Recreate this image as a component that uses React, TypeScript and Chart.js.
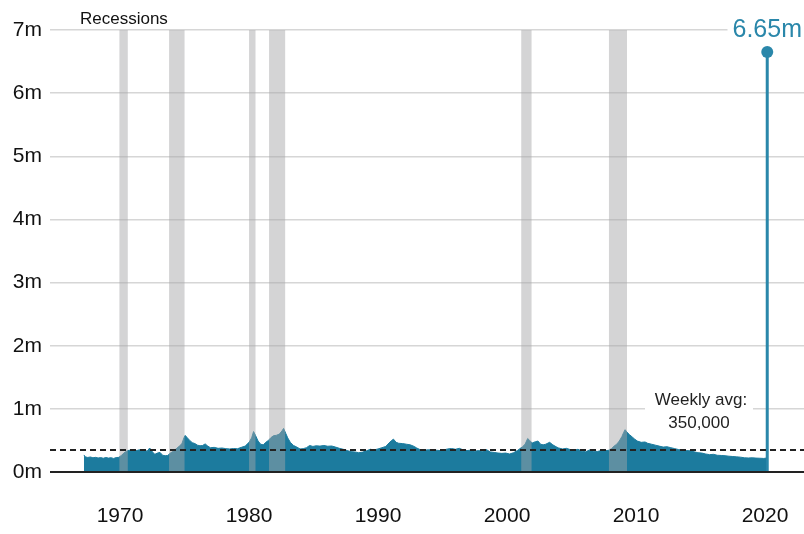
import React, { useEffect, useRef } from "react";
import { Chart, registerables } from "chart.js";

Chart.register(...registerables);

// Weekly initial jobless claims (thousands)
const years = [
  1967.2, 1967.3, 1967.5, 1967.7, 1967.9, 1968.1, 1968.3, 1968.5, 1968.7, 1968.9,
  1969.1, 1969.3, 1969.5, 1969.7, 1969.9, 1970.1, 1970.3, 1970.5, 1970.7, 1970.9,
  1971.1, 1971.3, 1971.5, 1971.7, 1971.9, 1972.1, 1972.3, 1972.5, 1972.7, 1972.9,
  1973.1, 1973.3, 1973.5, 1973.7, 1973.9, 1974.1, 1974.4, 1974.6, 1974.8, 1974.95,
  1975.05, 1975.2, 1975.4, 1975.6, 1975.8, 1976.0, 1976.2, 1976.4, 1976.6, 1976.8,
  1977.0, 1977.3, 1977.6, 1977.9, 1978.2, 1978.5, 1978.8, 1979.1, 1979.4, 1979.7,
  1980.0, 1980.2, 1980.35, 1980.5, 1980.7, 1980.9, 1981.1, 1981.3, 1981.5, 1981.7,
  1981.9, 1982.1, 1982.35, 1982.55, 1982.68, 1982.85, 1983.0, 1983.2, 1983.45, 1983.7,
  1983.95, 1984.2, 1984.45, 1984.7, 1984.95, 1985.2, 1985.5, 1985.8, 1986.1, 1986.4,
  1986.7, 1987.0, 1987.3, 1987.6, 1987.9, 1988.2, 1988.5, 1988.8, 1989.1, 1989.4,
  1989.7, 1990.0, 1990.3, 1990.6, 1990.85, 1991.05, 1991.2, 1991.4, 1991.6, 1991.9,
  1992.2, 1992.5, 1992.8, 1993.0, 1993.3, 1993.6, 1993.9, 1994.2, 1994.5, 1994.8,
  1995.1, 1995.4, 1995.7, 1996.0, 1996.3, 1996.6, 1996.9, 1997.2, 1997.5, 1997.8,
  1998.1, 1998.4, 1998.7, 1999.0, 1999.3, 1999.6, 1999.9, 2000.2, 2000.5, 2000.8,
  2001.0, 2001.2, 2001.4, 2001.6, 2001.75, 2001.95, 2002.2, 2002.4, 2002.6, 2002.8,
  2003.0, 2003.3, 2003.55, 2003.8, 2004.0, 2004.3, 2004.6, 2004.9, 2005.2, 2005.5,
  2005.8, 2006.1, 2006.4, 2006.7, 2007.0, 2007.3, 2007.6, 2007.9, 2008.1, 2008.3,
  2008.5, 2008.7, 2008.9, 2009.05, 2009.15, 2009.3, 2009.5, 2009.7, 2009.9, 2010.1,
  2010.4, 2010.7, 2010.9, 2011.2, 2011.5, 2011.8, 2012.1, 2012.4, 2012.7, 2013.0,
  2013.3, 2013.6, 2013.9, 2014.2, 2014.5, 2014.8, 2015.1, 2015.4, 2015.7, 2016.0,
  2016.3, 2016.6, 2016.9, 2017.2, 2017.5, 2017.8, 2018.1, 2018.4, 2018.7, 2019.0,
  2019.3, 2019.6, 2019.9, 2020.1,
];
const claimsK = [
  270, 240, 230, 238, 225, 232, 222, 228, 218, 230,
  220, 226, 215, 228, 232, 262, 300, 330, 345, 335,
  350, 340, 352, 338, 345, 330, 380, 320, 280, 300,
  310, 265, 258, 262, 300, 325, 375, 410, 450, 540,
  580, 545, 500, 465, 450, 425, 415, 420, 445, 410,
  385, 390, 375, 380, 370, 365, 372, 368, 390, 410,
  470, 540, 640, 580, 490, 440, 430, 470, 500, 545,
  575, 580, 600, 650, 690, 610, 540, 470, 420, 395,
  365, 370, 385, 420, 405, 415, 410, 420, 408, 412,
  395, 375, 360, 340, 322, 318, 305, 315, 335, 360,
  350, 365, 385, 405, 460, 500, 520, 470, 455, 450,
  440, 430, 405, 380, 350, 345, 352, 350, 345, 340,
  350, 365, 372, 360, 375, 350, 340, 345, 330, 340,
  325, 355, 318, 310, 300, 295, 300, 285, 305, 340,
  370, 400, 440, 530, 500, 460, 480, 490, 440, 430,
  440, 470, 430, 400, 380, 365, 375, 355, 345, 360,
  330, 320, 350, 330, 325, 340, 335, 345, 370, 410,
  440, 490, 560, 630, 670, 630, 590, 555, 520, 490,
  470, 475, 455, 440, 425, 410, 395, 400, 385, 370,
  355, 345, 340, 335, 320, 305, 300, 285, 275, 280,
  265, 262, 258, 250, 245, 240, 235, 225, 222, 225,
  220, 218, 215, 220,
];
const spikeYear = 2020.17;
const spikeClaims = 6650000;
const weeklyAvg = 350000;

const recessionStart = [1969.95, 1973.8, 1980.0, 1981.55, 2001.1, 2007.9];
const recessionEnd = [1970.6, 1975.0, 1980.5, 1982.8, 2001.9, 2009.3];

const xTickYears = [1970, 1980, 1990, 2000, 2010, 2020];
const yTickMillions = [0, 1, 2, 3, 4, 5, 6, 7];

const TEAL = "#1c7b9e";
const TEAL_LINE = "#2a87aa";
const FONT = "'Liberation Sans', Arial, Helvetica, sans-serif";

const overlayPlugin = {
  id: "overlay",
  afterDatasetsDraw(chart: any) {
    const ctx = chart.ctx as CanvasRenderingContext2D;
    const { left, right, top, bottom } = chart.chartArea;
    const xs = chart.scales.x;
    const ys = chart.scales.y;
    ctx.save();

    // recession bands
    ctx.fillStyle = "rgba(166,166,168,0.48)";
    for (let i = 0; i < recessionStart.length; i++) {
      const x0 = xs.getPixelForValue(recessionStart[i]);
      const x1 = xs.getPixelForValue(recessionEnd[i]);
      ctx.fillRect(x0, top, x1 - x0, bottom - top);
    }

    // baseline
    ctx.strokeStyle = "#222";
    ctx.lineWidth = 2;
    ctx.beginPath();
    ctx.moveTo(left, bottom);
    ctx.lineTo(right, bottom);
    ctx.stroke();

    // weekly average dashed line
    const ya = ys.getPixelForValue(weeklyAvg / 1e6);
    ctx.setLineDash([6, 4]);
    ctx.lineWidth = 2;
    ctx.strokeStyle = "#222";
    ctx.beginPath();
    ctx.moveTo(left, ya);
    ctx.lineTo(right, ya);
    ctx.stroke();
    ctx.setLineDash([]);

    // Recessions label
    ctx.font = `17px ${FONT}`;
    ctx.fillStyle = "#111";
    ctx.textAlign = "left";
    ctx.textBaseline = "middle";
    ctx.fillText("Recessions", 80, 19);

    // spike label
    const sx = xs.getPixelForValue(spikeYear);
    const sy = ys.getPixelForValue(spikeClaims / 1e6);
    const spikeText = (spikeClaims / 1e6).toFixed(2) + "m";
    ctx.font = `25px ${FONT}`;
    const sw = ctx.measureText(spikeText).width;
    ctx.fillStyle = "#fff";
    ctx.fillRect(sx - sw / 2 - 5, sy - 36, sw + 10, 26);
    ctx.fillStyle = TEAL_LINE;
    ctx.textAlign = "center";
    ctx.fillText(spikeText, sx, sy - 22);

    // weekly avg label
    const wx = right - 105;
    const wy = ys.getPixelForValue(1);
    ctx.fillStyle = "#fff";
    ctx.fillRect(wx - 54, wy - 20, 108, 46);
    ctx.font = `17px ${FONT}`;
    ctx.fillStyle = "#222";
    ctx.textAlign = "center";
    ctx.fillText("Weekly avg:", wx + 2, wy - 9);
    ctx.fillText(weeklyAvg.toLocaleString("en-US"), wx, wy + 14);

    ctx.restore();
  },
};

export default function App() {
  const canvasRef = useRef<HTMLCanvasElement | null>(null);

  useEffect(() => {
    if (!canvasRef.current) return;
    const areaData = years.map((yr, i) => ({ x: yr, y: claimsK[i] / 1000 }));
    const spikeData = [
      { x: spikeYear, y: 0 },
      { x: spikeYear, y: spikeClaims / 1e6 },
    ];
    const chart = new Chart(canvasRef.current, {
      type: "line",
      data: {
        datasets: [
          {
            data: areaData,
            fill: "origin",
            backgroundColor: TEAL,
            borderColor: TEAL,
            borderWidth: 1,
            pointRadius: 0,
            tension: 0,
          },
          {
            data: spikeData,
            fill: false,
            borderColor: TEAL_LINE,
            borderWidth: 3,
            pointRadius: [0, 6],
            pointBackgroundColor: TEAL_LINE,
            pointBorderWidth: 0,
            clip: false,
          },
        ],
      },
      options: {
        responsive: false,
        animation: false,
        devicePixelRatio: 1,
        layout: { autoPadding: false, padding: { top: 30, left: 0, right: 0, bottom: 0 } },
        plugins: { legend: { display: false }, tooltip: { enabled: false } },
        scales: {
          x: {
            type: "linear",
            min: 1964.57,
            max: 2023.02,
            grid: { display: false, drawTicks: false },
            border: { display: false },
            ticks: {
              font: { family: FONT, size: 21 },
              color: "#111",
              padding: 32,
              maxRotation: 0,
              callback: (v: any) => String(v),
            },
            afterBuildTicks: (s: any) => {
              s.ticks = xTickYears.map((v) => ({ value: v }));
            },
            afterFit: (s: any) => {
              s.height = 62;
              s.paddingLeft = 0;
              s.paddingRight = 0;
            },
          },
          y: {
            min: 0,
            max: 7,
            grid: { color: "#d6d6d6", lineWidth: 1.5, drawTicks: false },
            border: { display: false },
            ticks: {
              font: { family: FONT, size: 21 },
              color: "#111",
              padding: 8,
              callback: (v: any) => v + "m",
            },
            afterBuildTicks: (s: any) => {
              s.ticks = yTickMillions.map((v) => ({ value: v }));
            },
            afterFit: (s: any) => {
              s.width = 50;
            },
          },
        },
      } as any,
      plugins: [overlayPlugin],
    });
    return () => chart.destroy();
  }, []);

  return (
    <div style={{ position: "fixed", left: 0, top: 0, width: 804, height: 534, background: "#fff" }}>
      <canvas ref={canvasRef} width={804} height={534} style={{ display: "block" }} />
    </div>
  );
}
